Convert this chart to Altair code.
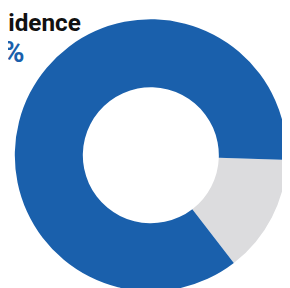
import altair as alt
import pandas as pd
import math

categories = ["Other", "Residence"]
values = [14, 86]
order = [0, 1]
colors = ["#dcdcde", "#1a60ac"]

title_text = ["Residence"]
pct_text = ["86%"]

df = pd.DataFrame({"category": categories, "value": values, "order": order})

start = math.radians(92)

donut = alt.Chart(df).mark_arc(outerRadius=140, innerRadius=70).encode(
    theta=alt.Theta("value:Q", stack=True, scale=alt.Scale(range=[start, start + 2 * math.pi])),
    color=alt.Color("category:N", scale=alt.Scale(domain=categories, range=colors), legend=None),
    order=alt.Order("order:Q"),
    x=alt.value(147),
    y=alt.value(147.5),
)

t1 = alt.Chart(pd.DataFrame({"t": title_text})).mark_text(
    align="right", baseline="alphabetic", font="Roboto", fontWeight="bold",
    fontSize=25, color="#111111"
).encode(text="t:N", x=alt.value(75), y=alt.value(20))

t2 = alt.Chart(pd.DataFrame({"t": pct_text})).mark_text(
    align="right", baseline="alphabetic", font="Roboto", fontWeight="bold",
    fontSize=30, color="#1a60ac"
).encode(text="t:N", x=alt.value(17), y=alt.value(51))

chart = alt.layer(donut, t1, t2).properties(
    width=282, height=280, autosize=alt.AutoSizeParams(type="none"), padding=0
).configure_view(stroke=None)

chart.save("out.html", embed_options={"renderer": "svg", "actions": False})
